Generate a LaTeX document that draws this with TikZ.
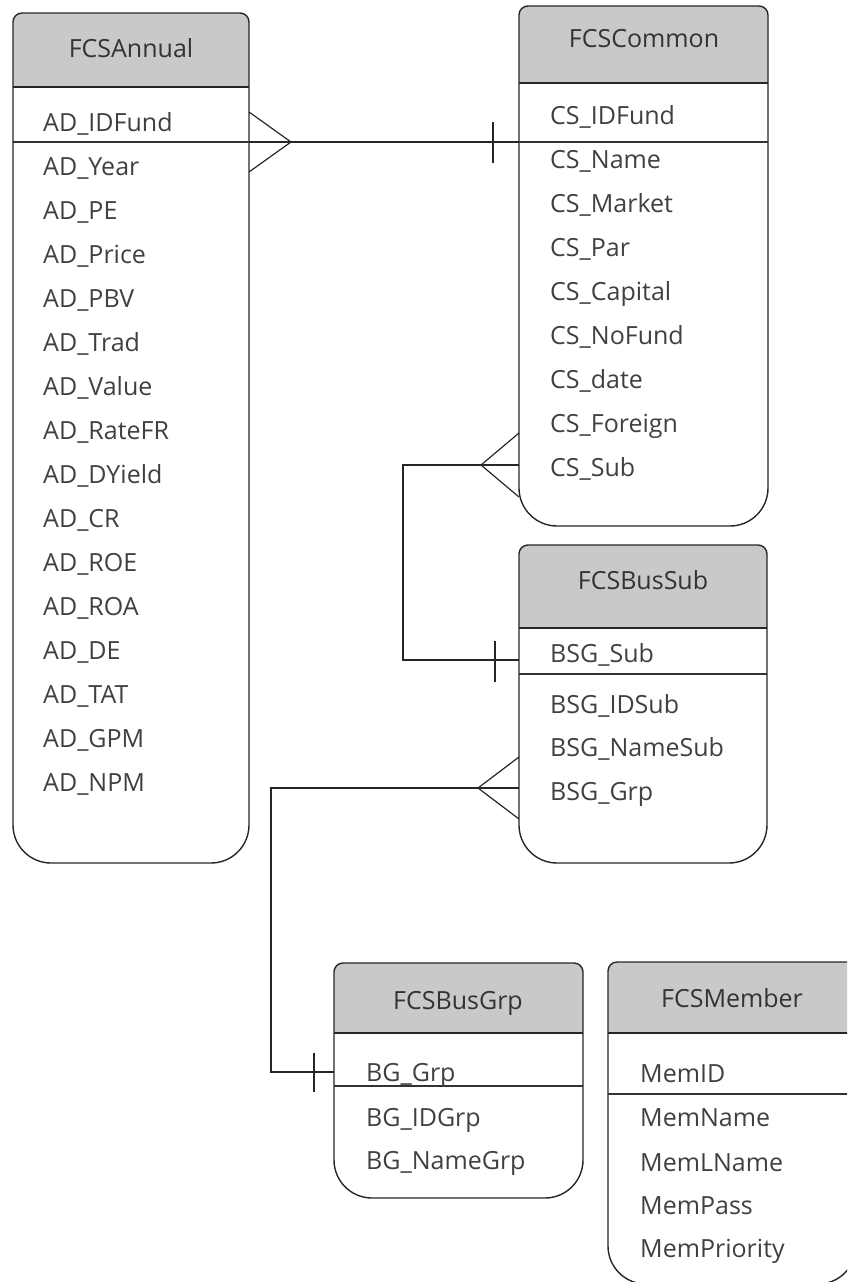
\documentclass[tikz,border=0pt]{standalone}
\usepackage{fontspec}
\setmainfont{Open Sans}
\tikzset{
	tbl/.style={line width=1.4pt,draw=black!85},
	head/.style={fill=gray!42},
	sepline/.style={line width=1.1pt,draw=black!80},
	rel/.style={line width=1.2pt,draw=black!85},
	fld/.style={anchor=base west,inner sep=0pt,text=black!75,font=\fontsize{25}{30}\selectfont},
	ttl/.style={anchor=base,inner sep=0pt,text=black!80,font=\fontsize{25}{30}\selectfont}
}
% table box: left, top, right, header bottom, bottom
\newcommand{\erbox}[5]{%
	\fill[head] (#1,#4) -- (#1,#2+9) arc (180:270:9) -- (#3-9,#2) arc (270:360:9) -- (#3,#4) -- cycle;
	\draw[tbl] (#1,#4) -- (#3,#4);
	\draw[tbl] (#1,#5-38) -- (#1,#2+9) arc (180:270:9) -- (#3-9,#2) arc (270:360:9)
		-- (#3,#5-38) arc (0:90:38) -- (#1+38,#5) arc (90:180:38) -- cycle;
}
\begin{document}
\begin{tikzpicture}[x=1pt,y=-1pt]
	\useasboundingbox (0,0) rectangle (847,1282);
	\clip (0,0) rectangle (847,1282);
	% tables
	\erbox{13}{13}{249}{87}{863}
	\erbox{519}{6}{768}{83}{526}
	\erbox{519}{545}{767}{628}{863}
	\erbox{334}{963}{583}{1033}{1198}
	\erbox{608}{962}{856}{1033}{1284}
	\draw[sepline] (13,142) -- (249,142);
	\draw[sepline] (519,142) -- (768,142);
	\draw[sepline] (519,674) -- (767,674);
	\draw[sepline] (334,1086) -- (583,1086);
	\draw[sepline] (608,1094) -- (856,1094);
	% titles
	\node[ttl] (annual) at (131,57) {FCSAnnual};
	\node[ttl] (common) at (644,47) {FCSCommon};
	\node[ttl] (bussub) at (643,589) {FCSBusSub};
	\node[ttl] (busgrp) at (458,1009) {FCSBusGrp};
	\node[ttl] (member) at (732,1007) {FCSMember};
	% fields
	\foreach \f [count=\i] in {AD\_IDFund,AD\_Year,AD\_PE,AD\_Price,AD\_PBV,AD\_Trad,AD\_Value,AD\_RateFR,
		AD\_DYield,AD\_CR,AD\_ROE,AD\_ROA,AD\_DE,AD\_TAT,AD\_GPM,AD\_NPM}
		\node[fld] (annual-\i) at (43,{131+44*(\i-1)}) {\f};
	\foreach \f [count=\i] in {CS\_IDFund,CS\_Name,CS\_Market,CS\_Par,CS\_Capital,CS\_NoFund,CS\_date,CS\_Foreign,CS\_Sub}
		\node[fld] (common-\i) at (550,{124+44*(\i-1)}) {\f};
	\foreach \f/\y [count=\i] in {BSG\_Sub/662,BSG\_IDSub/713,BSG\_NameSub/756,BSG\_Grp/800}
		\node[fld] (bussub-\i) at (550,\y) {\f};
	\foreach \f/\y [count=\i] in {BG\_Grp/1081,BG\_IDGrp/1126,BG\_NameGrp/1169}
		\node[fld] (busgrp-\i) at (366,\y) {\f};
	\foreach \f/\y [count=\i] in {MemID/1082,MemName/1126,MemLName/1171,MemPass/1214,MemPriority/1257}
		\node[fld] (member-\i) at (640,\y) {\f};
	% relation ends
	\coordinate (annual-fk) at (249,142);
	\coordinate (common-pk) at (519,142);
	\coordinate (common-fk) at (519,465);
	\coordinate (bussub-pk) at (519,660);
	\coordinate (bussub-fk) at (519,788);
	\coordinate (busgrp-pk) at (334,1072);
	% FCSAnnual >--| FCSCommon
	\draw[rel] (annual-fk) -- (common-pk);
	\draw[rel] (annual-fk) ++(0,-30) -- ++(42,30) -- ++(-42,30);
	\draw[rel] (common-pk) ++(-26,-20) -- ++(0,41);
	% FCSCommon >--| FCSBusSub
	\draw[rel] (common-fk) -- ++(-116,0) |- (bussub-pk);
	\draw[rel] (common-fk) ++(0,-32) -- ++(-38,32) -- ++(38,32);
	\draw[rel] (bussub-pk) ++(-24,-19) -- ++(0,41);
	% FCSBusSub >--| FCSBusGrp
	\draw[rel] (bussub-fk) -- ++(-248,0) |- (busgrp-pk);
	\draw[rel] (bussub-fk) ++(0,-31) -- ++(-41,31) -- ++(41,31);
	\draw[rel] (busgrp-pk) ++(-20,-19) -- ++(0,39);
\end{tikzpicture}
\end{document}
